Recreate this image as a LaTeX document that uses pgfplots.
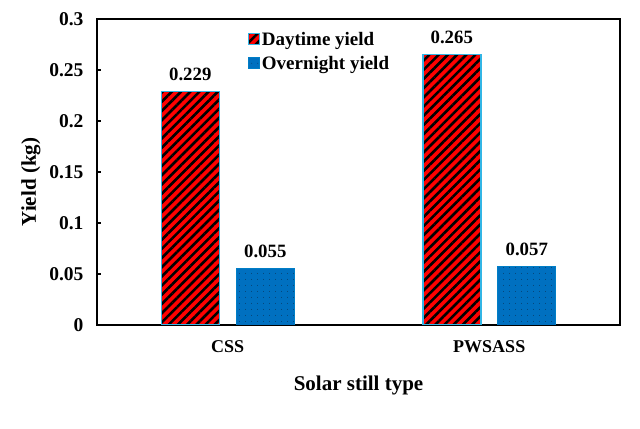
\documentclass[border=0pt]{standalone}
\usepackage{fontspec}
\setmainfont{Liberation Serif}
\usepackage{pgfplots}
\pgfplotsset{compat=1.18}
\usetikzlibrary{patterns.meta}
\definecolor{barred}{HTML}{FF0000}
\definecolor{barblue}{HTML}{0070C0}
\definecolor{edgecyan}{HTML}{33B5E5}
\definecolor{dotcol}{HTML}{0B2A4A}
\begin{document}
\begin{tikzpicture}
\useasboundingbox (0,0) rectangle (640bp,429bp);
\begin{axis}[
  at={(97bp,104bp)}, anchor=south west,
  scale only axis, width=523bp, height=306bp,
  xmin=-0.5, xmax=1.5, ymin=0, ymax=0.3,
  xtick={0,1}, xticklabels={CSS,PWSASS},
  ytick={0,0.05,0.1,0.15,0.2,0.25,0.3},
  yticklabels={0,0.05,0.1,0.15,0.2,0.25,0.3},
  major x tick style={draw=none},
  tick align=inside, major tick length=4bp,
  axis line style={line width=1.3pt},
  every tick/.style={black, line width=1.1pt},
  ytick pos=left,
  xticklabel style={font=\fontsize{18bp}{20bp}\selectfont\bfseries, yshift=-8bp},
  yticklabel style={font=\fontsize{19.5bp}{21bp}\selectfont\bfseries, xshift=-10bp},
  label style={font=\fontsize{21bp}{24bp}\selectfont\bfseries},
  xlabel={Solar still type}, ylabel={Yield (kg)},
  xlabel style={yshift=-16bp},
  ylabel style={yshift=2bp, xshift=-10bp},
  ybar, bar width=58bp,
  nodes near coords,
  point meta=explicit symbolic,
  every node near coord/.append style={font=\fontsize{18.8bp}{20bp}\selectfont\bfseries, yshift=7bp},
  legend style={at={(0.282,0.97)}, anchor=north west, draw=none, fill=none,
    font=\fontsize{19bp}{22bp}\selectfont\bfseries, row sep=5bp,
    /tikz/every even column/.append style={column sep=3bp}},
  legend cell align=left,
  legend image code/.code={\draw[#1, line width=1.2pt] (0bp,-5bp) rectangle (11bp,6bp);},
]
\addplot[bar shift=-37.5bp, draw=edgecyan, line width=1.5pt, fill=barred,
  postaction={pattern={Lines[angle=45,distance=6.5bp,line width=2.6bp]}, pattern color=black}]
  coordinates {(0,0.229)[0.229] (1,0.265)[0.265]};
\addlegendentry{Daytime yield}
\addplot[bar shift=37.5bp, draw=barblue!90!cyan, line width=1pt, fill=barblue,
  postaction={pattern={Dots[distance=6bp,radius=0.45bp]}, pattern color=dotcol}]
  coordinates {(0,0.055)[0.055] (1,0.057)[0.057]};
\addlegendentry{Overnight yield}
\end{axis}
\end{tikzpicture}
\end{document}
